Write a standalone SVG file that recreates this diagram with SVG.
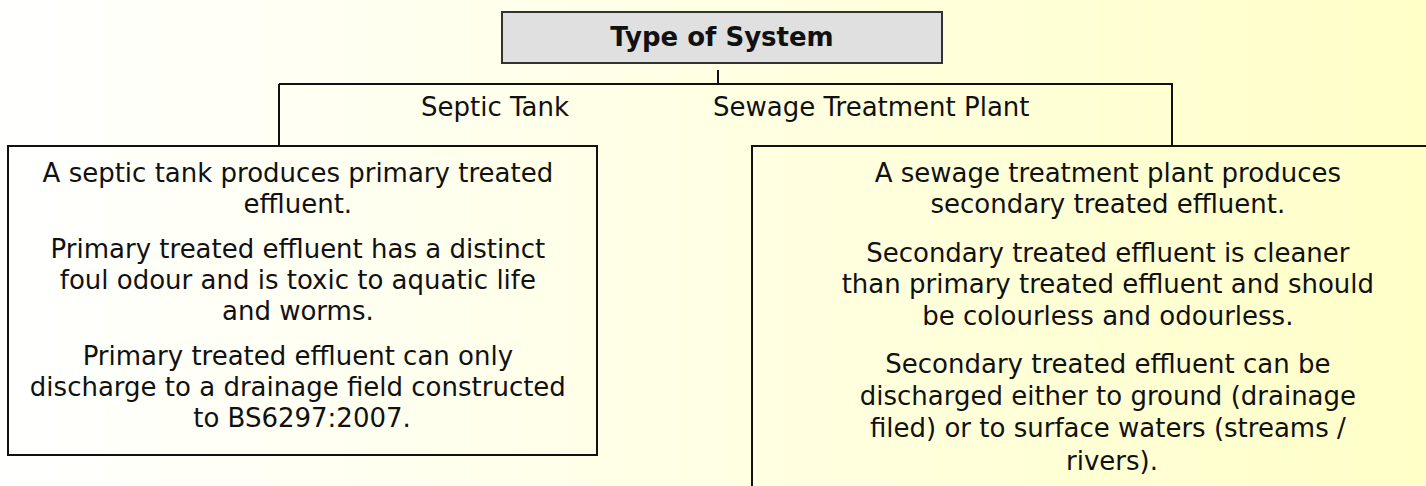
<svg xmlns="http://www.w3.org/2000/svg" width="1426" height="486" viewBox="0 0 1426 486">
  <defs>
    <linearGradient id="bg" x1="0" y1="0" x2="1" y2="0">
      <stop offset="0" stop-color="#ffffff"/>
      <stop offset="1" stop-color="#ffffc8"/>
    </linearGradient>
  </defs>
  <style>
    .txt { font-family: "DejaVu Sans", Verdana, sans-serif; font-size: 26px; fill: #111; }
    .c { text-anchor: middle; }
    .title { font-weight: bold; }
    .box { fill: none; stroke: #111; stroke-width: 2; }
    .conn { fill: none; stroke: #111; stroke-width: 2; }
  </style>
  <rect x="0" y="0" width="1426" height="486" fill="url(#bg)"/>

  <g id="connectors">
    <line class="conn" x1="718" y1="70" x2="718" y2="84"/>
    <line class="conn" x1="279" y1="84" x2="1173" y2="84"/>
    <line class="conn" x1="279" y1="84" x2="279" y2="146"/>
    <line class="conn" x1="1172" y1="84" x2="1172" y2="146"/>
    <text class="txt" x="421" y="116">Septic Tank</text>
    <text class="txt" x="713" y="116">Sewage Treatment Plant</text>
  </g>

  <g id="node-type">
    <rect x="502" y="12" width="440" height="51" fill="#e0e0e0" stroke="#333" stroke-width="2"/>
    <text class="txt c title" x="722" y="46">Type of System</text>
  </g>

  <g id="node-septic">
    <rect class="box" x="8" y="146" width="589" height="309"/>
    <text class="txt c" x="302">
      <tspan x="302" y="181.5">A septic tank produces primary treated</tspan>
      <tspan x="302" y="212.5">effluent.</tspan>
      <tspan x="302" y="258">Primary treated effluent has a distinct</tspan>
      <tspan x="302" y="289">foul odour and is toxic to aquatic life</tspan>
      <tspan x="302" y="320">and worms.</tspan>
      <tspan x="302" y="365">Primary treated effluent can only</tspan>
      <tspan x="302" y="396">discharge to a drainage field constructed</tspan>
      <tspan x="302" y="427">to BS6297:2007.</tspan>
    </text>
  </g>

  <g id="node-stp">
    <path class="box" d="M1440,146 H752 V490"/>
    <text class="txt c" x="1112">
      <tspan x="1112" y="181.5">A sewage treatment plant produces</tspan>
      <tspan x="1112" y="213">secondary treated effluent.</tspan>
      <tspan x="1112" y="261.5">Secondary treated effluent is cleaner</tspan>
      <tspan x="1112" y="293">than primary treated effluent and should</tspan>
      <tspan x="1112" y="325">be colourless and odourless.</tspan>
      <tspan x="1112" y="373">Secondary treated effluent can be</tspan>
      <tspan x="1112" y="405">discharged either to ground (drainage</tspan>
      <tspan x="1112" y="437">filed) or to surface waters (streams /</tspan>
      <tspan x="1112" y="470">rivers).</tspan>
    </text>
  </g>
</svg>
